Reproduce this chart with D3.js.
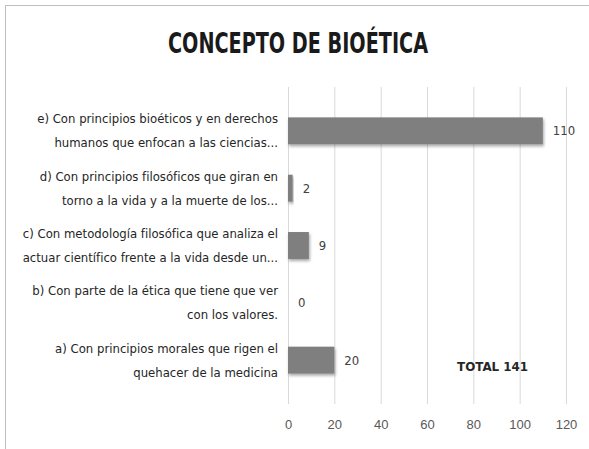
<!DOCTYPE html>
<html lang="es">
<head>
<meta charset="UTF-8">
<title>Concepto de bioética</title>
<script src="https://d3js.org/d3.v7.min.js"></script>
<style>
    body { margin: 0; background: #fff; font-family: "Liberation Sans Narrow", "DejaVu Sans Condensed", Arial, sans-serif; }
    .grid line { stroke: #d9d9d9; }
    .grid path { display: none; }
    .axis-x path, .axis-x line { display: none; }
    .axis-x text { fill: #595959; font-size: 13px; }
</style>
</head>
<body>
<svg width="589" height="449"></svg>
<script>
    // categories, bottom to top as in the chart
    const categories = [
        ["a) Con principios morales que rigen el", "quehacer de la medicina"],
        ["b) Con parte de la ética que tiene que ver", "con los valores."],
        ["c) Con metodología filosófica que analiza el", "actuar científico frente a la vida desde un..."],
        ["d) Con principios filosóficos que giran en", "torno a la vida y a la muerte de los..."],
        ["e) Con principios bioéticos y en derechos", "humanos que enfocan a las ciencias..."]
    ];
    const values = [20, 0, 9, 2, 110];
    const xTicks = [0, 20, 40, 60, 80, 100, 120];
    const title = "CONCEPTO  DE BIOÉTICA";
    const totalLabel = "TOTAL 141";

    const svg = d3.select("svg");
    const margin = {top: 87, right: 23, bottom: 45, left: 288};
    const width = 589 - margin.left - margin.right;
    const height = 404 - margin.top;

    // chart frame (right and bottom edges fall outside the picture)
    svg.append("rect")
        .attr("x", 5.5).attr("y", 5.5)
        .attr("width", 600).attr("height", 460)
        .attr("fill", "none").attr("stroke", "#bfbfbf");

    svg.append("text")
        .attr("x", 298).attr("y", 53)
        .attr("text-anchor", "middle")
        .attr("font-size", 28).attr("font-weight", "bold")
        .attr("fill", "#1a1a1a")
        .attr("textLength", 260).attr("lengthAdjust", "spacingAndGlyphs")
        .text(title);

    const g = svg.append("g").attr("transform", `translate(${margin.left},${margin.top})`);

    const x = d3.scaleLinear().domain([0, 120]).range([0, width]);
    const y = d3.scaleBand()
        .domain(categories.map((d, i) => i))
        .range([height, 0])
        .padding(0.53);

    g.append("g")
        .attr("class", "grid")
        .call(d3.axisBottom(x).tickValues(xTicks).tickSize(height).tickFormat(""));

    g.append("g")
        .attr("class", "axis-x")
        .attr("transform", `translate(0,${height + 6})`)
        .call(d3.axisBottom(x).tickValues(xTicks).tickSize(0).tickPadding(10));

    const defs = svg.append("defs");
    const f = defs.append("filter").attr("id", "shadow").attr("x", "-10%").attr("y", "-30%").attr("width", "130%").attr("height", "180%");
    f.append("feDropShadow").attr("dx", 1).attr("dy", 2).attr("stdDeviation", 1.5).attr("flood-color", "#000").attr("flood-opacity", 0.35);

    g.selectAll(".bar")
        .data(values)
        .enter().append("rect")
        .attr("class", "bar")
        .attr("x", 0)
        .attr("y", (d, i) => y(i))
        .attr("width", d => x(d))
        .attr("height", y.bandwidth())
        .attr("fill", "#7f7f7f")
        .attr("filter", d => d > 0 ? "url(#shadow)" : null);

    g.selectAll(".val")
        .data(values)
        .enter().append("text")
        .attr("class", "val")
        .attr("x", d => x(d) + 10)
        .attr("y", (d, i) => y(i) + y.bandwidth() / 2)
        .attr("dy", "0.35em")
        .attr("font-size", 13)
        .attr("fill", "#404040")
        .text(d => d);

    const labels = g.selectAll(".cat")
        .data(categories)
        .enter().append("text")
        .attr("class", "cat")
        .attr("text-anchor", "end")
        .attr("font-size", 13)
        .attr("fill", "#262626")
        .attr("transform", (d, i) => `translate(-10,${y(i) + y.bandwidth() / 2})`);

    labels.selectAll("tspan")
        .data(d => d)
        .enter().append("tspan")
        .attr("x", 0)
        .attr("y", (d, j) => j === 0 ? -12 : 12)
        .attr("dy", "0.35em")
        .text(d => d);

    g.append("text")
        .attr("x", x(73))
        .attr("y", y(0) + y.bandwidth() / 2 + 6)
        .attr("dy", "0.35em")
        .attr("font-size", 13)
        .attr("font-weight", "bold")
        .attr("fill", "#262626")
        .attr("textLength", 71).attr("lengthAdjust", "spacingAndGlyphs")
        .text(totalLabel);
</script>
</body>
</html>
